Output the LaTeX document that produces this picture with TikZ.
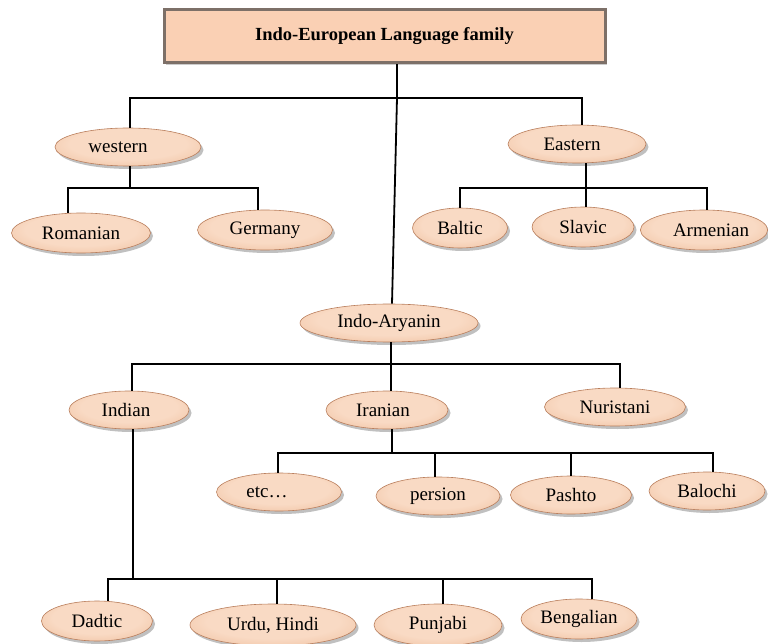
\documentclass[tikz,border=0pt]{standalone}
\usepackage{fontspec}
\setmainfont{Liberation Serif}
\usetikzlibrary{shapes.geometric,shadows}
\definecolor{peachin}{HTML}{F9DAC4}
\definecolor{peachmid}{HTML}{EFC09F}
\definecolor{peachout}{HTML}{D29570}
\definecolor{peachedge}{HTML}{B97E5C}
\definecolor{titlefill}{HTML}{FAD0B4}
\definecolor{titleedge}{HTML}{7D7068}
\pgfdeclareradialshading{pillshade}{\pgfpoint{0bp}{6bp}}{color(0bp)=(peachin); color(20bp)=(peachin); color(36bp)=(peachmid); color(46bp)=(peachout); color(60bp)=(peachout)}
\begin{document}
\begin{tikzpicture}[x=1pt,y=-1pt,
  lang/.style={ellipse, inner sep=0pt, draw=peachedge, line width=0.6pt,
    shading=pillshade,
    drop shadow={shadow xshift=2.5pt, shadow yshift=-3pt, fill=black!55, opacity=0.45},
    font=\fontsize{19}{21}\selectfont},
  titlebox/.style={rectangle, inner sep=0pt, fill=titlefill, draw=titleedge, line width=3pt,
    drop shadow={shadow xshift=2pt, shadow yshift=-2pt, fill=black!50, opacity=0.4},
    font=\bfseries\fontsize{18.5}{21}\selectfont},
  conn/.style={draw=black, line width=1.8pt}]
\useasboundingbox (0,0) rectangle (768,644);

% nodes
\node[titlebox, minimum width=441pt, minimum height=53pt] (title) at (384.5,36.5) {Indo-European Language family};

\node[lang, minimum width=146pt, minimum height=38pt] (western) at (128,147) {western\hspace*{20pt}};
\node[lang, minimum width=139pt, minimum height=40pt] (romanian) at (81,233) {Romanian};
\node[lang, minimum width=135pt, minimum height=40pt] (germany) at (265,230) {Germany};

\node[lang, minimum width=138pt, minimum height=38pt] (eastern) at (577,144) {Eastern\hspace*{10pt}};
\node[lang, minimum width=95pt, minimum height=40pt] (baltic) at (460,228) {Baltic};
\node[lang, minimum width=102pt, minimum height=40pt] (slavic) at (583,227) {Slavic};
\node[lang, minimum width=118pt, minimum height=40pt] (armenian) at (704,230) {\hspace*{14pt}Armenian};

\node[lang, minimum width=178pt, minimum height=38pt] (indoaryan) at (389,323) {Indo-Aryanin};

\node[lang, minimum width=120pt, minimum height=38pt] (indian) at (129,410) {Indian\hspace*{6pt}};
\node[lang, minimum width=122pt, minimum height=38pt] (iranian) at (387,410) {Iranian\hspace*{8pt}};
\node[lang, minimum width=141pt, minimum height=38pt] (nuristani) at (615,407) {Nuristani};

\node[lang, minimum width=125pt, minimum height=38pt] (etc) at (279,492) {etc…\hspace*{24pt}};
\node[lang, minimum width=124pt, minimum height=38pt] (persion) at (438,496) {persion};
\node[lang, minimum width=121pt, minimum height=38pt] (pashto) at (571,495) {Pashto};
\node[lang, minimum width=116pt, minimum height=38pt] (balochi) at (707,491) {Balochi};

\node[lang, minimum width=111pt, minimum height=40pt] (dadtic) at (97,621) {Dadtic};
\node[lang, minimum width=166pt, minimum height=42pt] (urdu) at (273,625) {Urdu, Hindi};
\node[lang, minimum width=128pt, minimum height=42pt] (punjabi) at (438,625) {Punjabi};
\node[lang, minimum width=116pt, minimum height=40pt] (bengalian) at (579,619) {Bengalian};

% junctions
\coordinate (j1) at (397,98);
\coordinate (jw) at (130,188);
\coordinate (je) at (586,188);
\coordinate (ja) at (391,364);
\coordinate (ji) at (392,453);
\coordinate (jd) at (133,579);

% connectors
\draw[conn] (title.south -| j1) -- (j1);
\draw[conn] ([xshift=2pt]western.north) |- (j1) -| ([xshift=5pt]eastern.north);
\draw[conn] (j1) -- ([xshift=3pt]indoaryan.north);

\draw[conn] (western.south -| jw) -- (jw);
\draw[conn] ([xshift=-13pt]romanian.north) |- (jw) -| ([xshift=-7pt]germany.north);

\draw[conn] (eastern.south -| je) -- (je);
\draw[conn] (baltic.north) |- (je) -| ([xshift=3pt]armenian.north);
\draw[conn] (je) -- (slavic.north -| je);

\draw[conn] (indoaryan.south -| ja) -- (ja);
\draw[conn] ([xshift=3pt]indian.north) |- (ja) -| ([xshift=5pt]nuristani.north);
\draw[conn] (ja) -- (iranian.north -| ja);

\draw[conn] ([xshift=5pt]iranian.south) -- (ji);
\draw[conn] ([xshift=-1pt]etc.north) |- (ji) -| ([xshift=6pt]balochi.north);
\draw[conn] ([xshift=-3pt]persion.north) -- ([xshift=-3pt]persion.north |- ji);
\draw[conn] (pashto.north) -- (pashto.north |- ji);

\draw[conn] ([xshift=4pt]indian.south) -- (jd);
\draw[conn] ([xshift=11pt]dadtic.north) |- (jd) -| ([xshift=13pt]bengalian.north);
\draw[conn] ([xshift=4pt]urdu.north) -- ([xshift=4pt]urdu.north |- jd);
\draw[conn] ([xshift=5pt]punjabi.north) -- ([xshift=5pt]punjabi.north |- jd);
\end{tikzpicture}
\end{document}
